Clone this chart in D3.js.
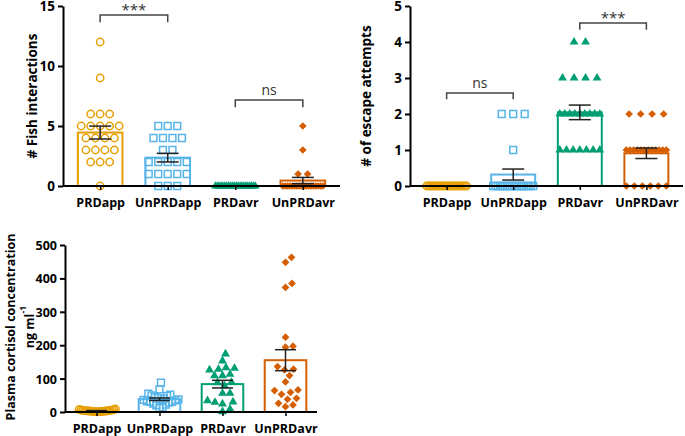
<!DOCTYPE html>
<html><head><meta charset="utf-8">
<script src="https://cdn.jsdelivr.net/npm/d3@7"></script>
<style>
body{margin:0;background:#fff}
svg{display:block}
text{font-family:"Open Sans",Lato,sans-serif}
</style>
</head><body>
<svg id="c" width="685" height="436"></svg>
<script>
const categories = ["PRDapp","UnPRDapp","PRDavr","UnPRDavr"];
const colors = ["#E69F00","#56B4E9","#009E73","#D55E00"];
const symbolTypes = ["circle","square","triangle","diamond"];

// Panel A: # Fish interactions
const fishPRDapp   = [12,9,6,6,6,5,5,5,5,5,4,4,4,4,3,3,3,3,2,2,2,0];
const fishUnPRDapp = [5,5,5,4,4,4,4,3,3,2,2,2,2,2,1,1,1,1,1,0,0,0];
const fishPRDavr   = [0,0,0,0,0,0,0,0,0,0,0,0,0,0,0,0,0,0,0,0,0,0];
const fishUnPRDavr = [5,3,1,1,0,0,0,0,0,0,0,0,0,0,0,0,0,0,0,0,0,0];
const fishTicks = [0,5,10,15];

// Panel B: # of escape attempts
const escPRDapp   = [0,0,0,0,0,0,0,0,0,0,0,0,0,0,0,0,0,0,0,0,0,0];
const escUnPRDapp = [2,2,2,1,0,0,0,0,0,0,0,0,0,0,0,0,0,0,0,0,0,0];
const escPRDavr   = [4,4,3,3,3,3,2,2,2,2,2,2,2,2,2,1,1,1,1,1,1,1];
const escUnPRDavr = [2,2,2,2,1,1,1,1,1,1,1,1,1,1,1,1,0,0,0,0,0,0];
const escTicks = [0,1,2,3,4,5];

// Panel C: Plasma cortisol concentration (ng/ml)
const cortPRDapp   = [9,7,6,5,5,4,4,4,3,3,3,2,2,2,1,1,1,0.5,6,8,3,2];
const cortUnPRDapp = [88,68,55,52,50,48,45,42,40,38,36,35,33,32,30,30,28,25,22,20,15,12];
const cortPRDavr   = [174,153,131,126,128,133,109,113,109,89,88,78,56,56,34,30,29,24,9,1];
const cortUnPRDavr = [463,448,373,385,224,194,197,136,126,128,109,90,66,64,59,53,41,38,26,21,16];
const cortTicks = [0,100,200,300,400,500];

// Significance brackets
const fishSig = [{a:"PRDapp", b:"UnPRDapp", label:"***", level:14.25, drop:0.6},
                 {a:"PRDavr", b:"UnPRDavr", label:"ns",  level:7.17,  drop:0.6}];
const escSig  = [{a:"PRDapp", b:"UnPRDapp", label:"ns",  level:2.58, drop:0.17},
                 {a:"PRDavr", b:"UnPRDavr", label:"***", level:4.53, drop:0.19}];

const svg = d3.select("#c");

function symbolPath(type, size){
  if(type==="circle") return d3.symbol(d3.symbolCircle, size)();
  if(type==="square") return d3.symbol(d3.symbolSquare, size)();
  if(type==="triangle") return d3.symbol(d3.symbolTriangle, size)();
  return d3.symbol(d3.symbolSquare, size)();
}

function rowLayout(vals, spacing, maxW){
  const groups = d3.group(vals.map((v,i)=>({v,i})), d=>d.v);
  const out = [];
  groups.forEach(arr=>{
    const n = arr.length;
    const sp = n>1 ? Math.min(spacing, maxW/(n-1)) : 0;
    arr.forEach((d,k)=>out.push({v:d.v, dx:(k-(n-1)/2)*sp}));
  });
  return out;
}
function swarmLayout(vals, y, diam, maxHalf){
  const sorted = vals.slice().sort((a,b)=>a-b);
  const placed = [];
  sorted.forEach(v=>{
    const py = y(v);
    let best = 0;
    for(let k=0;k<200;k++){
      const cands = k===0?[0]:[k*0.5,-k*0.5];
      let ok=null;
      for(const c of cands){
        if(placed.every(p=>Math.hypot(p.dx-c, p.py-py)>=diam)){ok=c;break;}
      }
      if(ok!==null){best=ok;break;}
    }
    placed.push({v, dx:best, py});
  });
  const mx = d3.max(placed, p=>Math.abs(p.dx));
  if(mx>maxHalf) placed.forEach(p=>p.dx*=maxHalf/mx);
  return placed;
}

function drawPanel(p){
  const x = d3.scalePoint().domain(categories).range(p.xRange).padding(p.pad);
  const y = d3.scaleLinear().domain(p.domain).range(p.yRange);
  const g = svg.append("g");
  const bw = x.step()*p.barFrac;
  const y0 = y(0);

  p.series.forEach((vals,i)=>{
    const cx = x(categories[i]);
    const m = d3.mean(vals);
    g.append("rect").attr("x",cx-bw/2).attr("y",y(m)).attr("width",bw)
      .attr("height",Math.max(0,y0-y(m))).attr("fill","none")
      .attr("stroke",colors[i]).attr("stroke-width",2);
  });

  p.series.forEach((vals,i)=>{
    const cx = x(categories[i]);
    const type = symbolTypes[i];
    const pts = p.swarm ? swarmLayout(vals, y, p.diam, p.maxHalf) : rowLayout(vals, p.spacing, p.maxW);
    const filled = (type==="triangle"||type==="diamond");
    g.selectAll(null).data(pts).enter().append("path")
      .attr("d", symbolPath(type, p.sizes[i]))
      .attr("transform", d=>`translate(${cx+d.dx},${y(d.v)})${type==="diamond"?" rotate(45)":""}`)
      .attr("fill", filled?colors[i]:"none")
      .attr("stroke", filled?"none":colors[i])
      .attr("stroke-width", 1.5);
  });

  p.series.forEach((vals,i)=>{
    const cx = x(categories[i]);
    const m = d3.mean(vals);
    const s = d3.deviation(vals)/Math.sqrt(vals.length);
    if(s>0){
      const cw = p.capW/2;
      const eg = g.append("g").attr("stroke","#222").attr("stroke-width",1.5);
      eg.append("line").attr("x1",cx).attr("x2",cx).attr("y1",y(m-s)).attr("y2",y(m+s));
      eg.append("line").attr("x1",cx-cw).attr("x2",cx+cw).attr("y1",y(m+s)).attr("y2",y(m+s));
      eg.append("line").attr("x1",cx-cw).attr("x2",cx+cw).attr("y1",y(m-s)).attr("y2",y(m-s));
    }
  });

  const ya = g.append("g").attr("transform",`translate(${p.xRange[0]},0)`)
    .call(d3.axisLeft(y).tickValues(p.ticks).tickFormat(d3.format("d")).tickSize(5).tickSizeOuter(0).tickPadding(3));
  ya.select(".domain").attr("stroke","#000").attr("stroke-width",2);
  ya.selectAll(".tick line").attr("stroke","#000").attr("stroke-width",2);
  ya.selectAll("text").attr("font-family","Open Sans").attr("font-weight","bold")
    .attr("font-size",p.tickSize).attr("fill","#000").attr("dy","0.36em");

  const xa = g.append("g").attr("transform",`translate(0,${y0})`)
    .call(d3.axisBottom(x).tickSize(4).tickSizeOuter(0).tickPadding(8));
  xa.select(".domain").attr("stroke","#000").attr("stroke-width",2)
    .attr("d",`M${p.xRange[0]},0H${p.xRange[1]}`);
  xa.selectAll(".tick line").attr("stroke","#000").attr("stroke-width",1.5);
  xa.selectAll("text").attr("font-family","Open Sans").attr("font-weight","bold")
    .attr("font-size",12.5).attr("fill","#000");

  (p.sig||[]).forEach(s=>{
    const xa_ = x(s.a), xb = x(s.b), yl = y(s.level), yd = y(s.level - s.drop);
    g.append("path").attr("d",`M${xa_},${yd}V${yl}H${xb}V${yd}`)
      .attr("fill","none").attr("stroke","#444").attr("stroke-width",1.5);
    g.append("text").attr("x",(xa_+xb)/2).attr("y",yl-(s.label==="ns"?5:0))
      .attr("text-anchor","middle").attr("font-size",s.label==="ns"?14:15)
      .attr("fill","#333").text(s.label);
  });

  const lab = g.append("text").attr("transform",`translate(${p.labX},${p.labY}) rotate(-90)`)
    .attr("text-anchor","middle").attr("dominant-baseline","central")
    .attr("font-weight","bold").attr("font-size",p.labSize).attr("fill","#000");
  lab.text(p.label);
  if(p.label2){
    const l2 = g.append("text").attr("transform",`translate(${p.lab2X},${p.labY}) rotate(-90)`)
      .attr("text-anchor","middle").attr("dominant-baseline","central")
      .attr("font-weight","bold").attr("font-size",p.labSize).attr("fill","#000");
    l2.append("tspan").text(p.label2);
    l2.append("tspan").attr("baseline-shift","super").attr("font-size",p.labSize*0.7).text(p.label2sup);
  }
}

drawPanel({
  series:[fishPRDapp,fishUnPRDapp,fishPRDavr,fishUnPRDavr],
  xRange:[63,340], pad:0.55, yRange:[186,6], domain:[0,15], ticks:fishTicks, tickSize:13.5,
  barFrac:0.66, spacing:9.5, maxW:40, sizes:[42,46,30,30], capW:22,
  sig:fishSig, label:"# Fish interactions", labX:32, labY:96, labSize:13.5
});
drawPanel({
  series:[escPRDapp,escUnPRDapp,escPRDavr,escUnPRDavr],
  xRange:[410,683], pad:0.55, yRange:[186,6], domain:[0,5], ticks:escTicks, tickSize:13.5,
  barFrac:0.66, spacing:11.5, maxW:40, sizes:[42,46,34,30], capW:22,
  sig:escSig, label:"# of escape attempts", labX:366, labY:96, labSize:13.5
});
drawPanel({
  series:[cortPRDapp,cortUnPRDapp,cortPRDavr,cortUnPRDavr],
  xRange:[65,317], pad:0.5, yRange:[412,245], domain:[0,500], ticks:cortTicks, tickSize:12.5,
  barFrac:0.66, swarm:true, diam:7.5, maxHalf:19, sizes:[42,46,34,30], capW:21,
  label:"Plasma cortisol concentration", label2:"ng ml", label2sup:"-1",
  labX:10, lab2X:29, labY:327, labSize:12.5
});
</script>
</body></html>
